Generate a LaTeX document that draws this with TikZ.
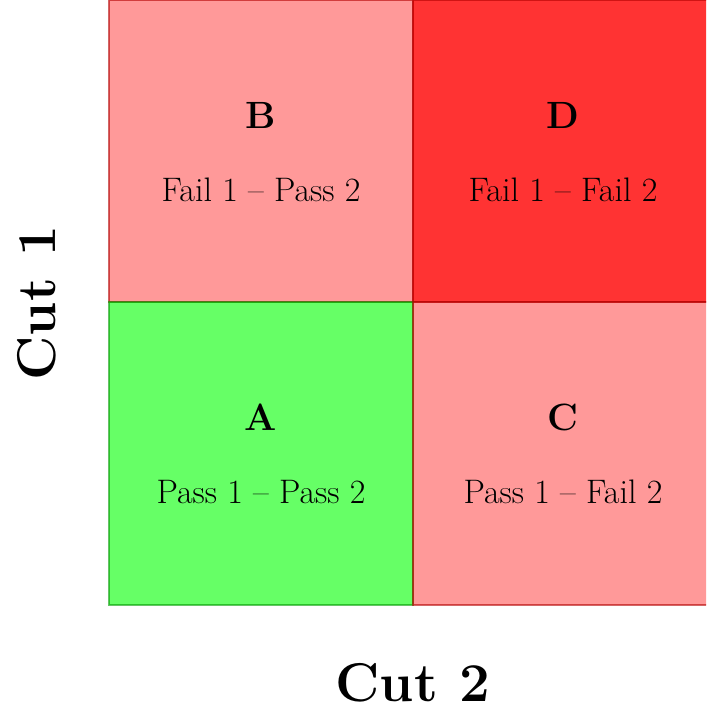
\documentclass[tikz,border=0pt]{standalone}
\begin{document}
\begin{tikzpicture}[x=0.5pt,y=-0.5pt,
  cell/.style={line width=1pt, draw opacity=0.6, fill opacity=#1},
  letter/.style={font=\fontsize{19}{22}\selectfont\bfseries},
  desc/.style={font=\fontsize{17}{20}\selectfont},
  axis/.style={font=\fontsize{27.3}{32}\selectfont\bfseries}]
\useasboundingbox (0,0) rectangle (706,710);
\begin{scope}
\clip (0,0) rectangle (706,710);
\path[cell=0.4, fill=red, draw=red!70!black] (109,0) rectangle (413,302);
\path[cell=0.8, fill=red, draw=red!70!black] (413,0) rectangle (717,302);
\path[cell=0.6, fill=green, draw=green!60!black] (109,302) rectangle (413,605);
\path[cell=0.4, fill=red, draw=red!70!black] (413,302) rectangle (717,605);
\end{scope}
\node[letter] (lb) at (261,115) {B};
\node[desc] (tb) at (261,190) {Fail 1 -- Pass 2};
\node[letter] (ld) at (563,115) {D};
\node[desc] (td) at (563,190) {Fail 1 -- Fail 2};
\node[letter] (la) at (261,417) {A};
\node[desc] (ta) at (261,492) {Pass 1 -- Pass 2};
\node[letter] (lc) at (563,417) {C};
\node[desc] (tc) at (563,492) {Pass 1 -- Fail 2};
\node[axis, rotate=90] (c1) at (37,303) {Cut\hspace{0.4em}1};
\node[axis] (c2) at (413,683) {Cut\hspace{0.4em}2};
\end{tikzpicture}
\end{document}
